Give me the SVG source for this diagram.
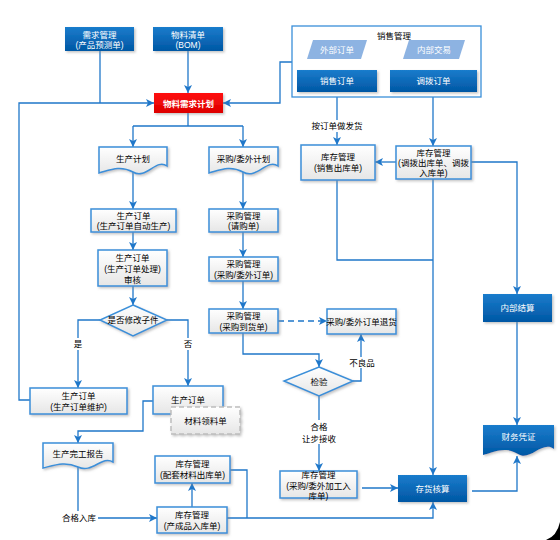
<svg xmlns="http://www.w3.org/2000/svg" width="560" height="540" viewBox="0 0 560 540">
<defs>
<linearGradient id="gBlue" x1="0" y1="0" x2="0" y2="1"><stop offset="0" stop-color="#1a7ccc"/><stop offset="1" stop-color="#0057a4"/></linearGradient>
<linearGradient id="gLight" x1="0" y1="0" x2="0" y2="1"><stop offset="0" stop-color="#ffffff"/><stop offset="1" stop-color="#e6e6e6"/></linearGradient>
<linearGradient id="gRed" x1="0" y1="0" x2="0" y2="1"><stop offset="0" stop-color="#ff1010"/><stop offset="1" stop-color="#dd0000"/></linearGradient>
<filter id="sh" x="-10%" y="-10%" width="130%" height="140%"><feDropShadow dx="1.5" dy="1.5" stdDeviation="0.8" flood-color="#888" flood-opacity="0.5"/></filter>
<marker id="ar" markerUnits="userSpaceOnUse" markerWidth="9" markerHeight="9" refX="8" refY="4.5" orient="auto"><path d="M0,0.5 L8,4.5 L0,8.5 L2,4.5 Z" fill="#1f77c9"/></marker>
</defs>
<style>
text{font-family:"Liberation Sans","Noto Sans CJK SC",sans-serif;font-size:8.5px;text-anchor:middle;}
.blue{fill:url(#gBlue);filter:url(#sh);}
.light{fill:url(#gLight);stroke:#3a8fd9;stroke-width:1.5;filter:url(#sh);}
.wt{fill:#fff;}
.bk{fill:#000;}
.para{fill:#8db3e2;}
.ln{fill:none;stroke:#1f77c9;stroke-width:1.3;}
.arr{marker-end:url(#ar);}
.lbl{fill:#000;}
.bg{fill:#fff;}
</style>

<g id="connectors">
<path class="ln" d="M100,51 V103"/>
<path class="ln arr" d="M30,400 H19 V103 H154"/>
<path class="ln arr" d="M188,51 V93"/>
<path class="ln arr" d="M292,62 H280 V103 H223"/>
<path class="ln" d="M188,113 V126 M133,126 H243"/>
<path class="ln arr" d="M133,126 V147"/>
<path class="ln arr" d="M243,126 V147"/>
<path class="ln arr" d="M337,59 V70"/>
<path class="ln arr" d="M433,59 V70"/>
<path class="ln arr" d="M337,92 V145"/>
<path class="ln arr" d="M433,92 V146"/>
<path class="ln arr" d="M396,162 H375"/>
<path class="ln arr" d="M471,162 H517 V294"/>
<path class="ln arr" d="M517,322 V425"/>
<path class="ln arr" d="M433,179 V475"/>
<path class="ln" d="M337,180 V260 H433"/>
<path class="ln arr" d="M472,491 H517 V456"/>
<path class="ln arr" d="M362,488 H398"/>
<path class="ln arr" d="M227,518 H433 V502"/>
<path class="ln" d="M230,470 H247 V518"/>
<path class="ln arr" d="M192,507 V483"/>
<path class="ln arr" d="M78,466 V518 H157"/>
<path class="ln arr" d="M153,401 H143 V431 H78 V443"/>
<path class="ln arr" d="M133,171 V209"/>
<path class="ln arr" d="M133,232 V250"/>
<path class="ln arr" d="M133,286 V305"/>
<path class="ln arr" d="M100,320 H78 V388"/>
<path class="ln arr" d="M167,320 H188 V386"/>
<path class="ln arr" d="M243,171 V209"/>
<path class="ln arr" d="M243,232 V257"/>
<path class="ln arr" d="M243,281 V309"/>
<path class="ln arr" d="M243,333 V354 H319 V367"/>
<path class="ln arr" d="M278,321 H327" stroke-dasharray="6,4"/>
<path class="ln arr" d="M353,381 H361 V334"/>
<path class="ln arr" d="M319,396 V471"/>
<rect class="bg" x="308" y="120" width="58" height="12"/>
<text class="lbl" x="337" y="129">按订单做发货</text>
<rect class="bg" x="60" y="511" width="38" height="12"/>
<text class="lbl" x="79" y="521">合格入库</text>
<rect class="bg" x="72" y="338" width="12" height="12"/>
<text class="lbl" x="78" y="347">是</text>
<rect class="bg" x="182" y="338" width="12" height="12"/>
<text class="lbl" x="188" y="347">否</text>
<rect class="bg" x="348" y="357" width="28" height="11"/>
<text class="lbl" x="362" y="366">不良品</text>
<rect class="bg" x="300" y="420" width="38" height="24"/>
<text class="lbl" x="319" y="430">合格</text>
<text class="lbl" x="319" y="442">让步接收</text>
</g>

<g id="n-demand"><rect class="blue" x="65" y="27" width="69" height="24"/><text class="wt" x="99.5" y="37.5">需求管理</text><text class="wt" x="99.5" y="48">(产品预测单)</text></g>
<g id="n-bom"><rect class="blue" x="153" y="27" width="70" height="24"/><text class="wt" x="188" y="37.5">物料清单</text><text class="wt" x="188" y="48">(BOM)</text></g>
<g id="n-mrp"><rect x="154" y="93" width="69" height="20" fill="url(#gRed)" filter="url(#sh)"/><text class="wt" x="188.5" y="106.5" font-size="10" font-weight="bold">物料需求计划</text></g>

<g id="n-sales"><rect x="292" y="26" width="189" height="71" fill="#fff" stroke="#3a8fd9" stroke-width="1.3"/><text class="bk" x="394" y="39" font-size="11">销售管理</text></g>
<g id="n-ext"><polygon class="para" points="313,40 367,40 361,59 307,59"/><text class="wt" x="337" y="53" font-size="8">外部订单</text></g>
<g id="n-int"><polygon class="para" points="409,40 465,40 459,59 403,59"/><text class="wt" x="434" y="53" font-size="8">内部交易</text></g>
<g id="n-so"><rect class="blue" x="297" y="70" width="80" height="22"/><text class="wt" x="337" y="84">销售订单</text></g>
<g id="n-to"><rect class="blue" x="390" y="70" width="87" height="22"/><text class="wt" x="433.5" y="84">调拨订单</text></g>

<g id="n-inv-sale"><rect class="light" x="301" y="145" width="74" height="35"/><text class="bk" x="338" y="159.5">库存管理</text><text class="bk" x="338" y="171">(销售出库单)</text></g>
<g id="n-inv-trans"><rect class="light" x="396" y="146" width="75" height="33"/><text class="bk" x="433.5" y="156">库存管理</text><text class="bk" x="433.5" y="166">(调拨出库单、调拨</text><text class="bk" x="433.5" y="176">入库单)</text></g>

<g id="n-prodplan"><path class="light" d="M99,147 H167 V166 C156,158 146,180 133,172 C120,165 110,170 99,173 Z"/><text class="bk" x="133" y="162">生产计划</text></g>
<g id="n-purplan"><path class="light" d="M209,147 H278 V166 C267,158 257,180 243,172 C230,165 220,170 209,173 Z"/><text class="bk" x="243.5" y="162">采购/委外计划</text></g>

<g id="n-mo1"><rect class="light" x="91" y="209" width="85" height="23"/><text class="bk" x="133.5" y="218.5">生产订单</text><text class="bk" x="133.5" y="229">(生产订单自动生产)</text></g>
<g id="n-mo2"><rect class="light" x="98" y="250" width="69" height="36"/><text class="bk" x="132.5" y="261">生产订单</text><text class="bk" x="132.5" y="272">(生产订单处理)</text><text class="bk" x="132.5" y="283">审核</text></g>
<g id="n-chk"><polygon class="light" points="133,305 167,320 133,336 100,320"/><text class="bk" x="133" y="323">是否修改子件</text></g>
<g id="n-mo3"><rect class="light" x="30" y="388" width="97" height="26"/><text class="bk" x="78.5" y="398.5">生产订单</text><text class="bk" x="78.5" y="410">(生产订单维护)</text></g>
<g id="n-mo4"><rect class="light" x="153" y="386" width="70" height="28"/><text class="bk" x="188" y="403">生产订单</text></g>
<g id="n-pick"><rect x="171" y="407" width="69" height="27" fill="url(#gLight)" stroke="#bdbdbd" stroke-width="1.5" stroke-dasharray="5,3" filter="url(#sh)"/><text class="bk" x="205.5" y="424">材料领料单</text></g>

<g id="n-pr"><rect class="light" x="209" y="209" width="69" height="23"/><text class="bk" x="243.5" y="218.5">采购管理</text><text class="bk" x="243.5" y="229">(请购单)</text></g>
<g id="n-po"><rect class="light" x="209" y="257" width="69" height="24"/><text class="bk" x="243.5" y="267">采购管理</text><text class="bk" x="243.5" y="278" font-size="8">(采购/委外订单)</text></g>
<g id="n-arr"><rect class="light" x="209" y="309" width="69" height="24"/><text class="bk" x="243.5" y="319">采购管理</text><text class="bk" x="243.5" y="330">(采购到货单)</text></g>
<g id="n-ret"><rect class="light" x="327" y="309" width="69" height="25"/><text class="bk" x="361.5" y="325" font-size="7.3">采购/委外订单退货</text></g>
<g id="n-qc"><polygon class="light" points="319,367 353,381 319,396 284,381"/><text class="bk" x="319" y="385">检验</text></g>
<g id="n-inv-pur"><rect class="light" x="280" y="471" width="77" height="27"/><text class="bk" x="318.5" y="478">库存管理</text><text class="bk" x="318.5" y="488.5">(采购/委外加工入</text><text class="bk" x="318.5" y="499">库单)</text></g>

<g id="n-cost"><rect class="blue" x="398" y="475" width="69" height="27"/><text class="wt" x="432.5" y="492">存货核算</text></g>
<g id="n-settle"><rect class="blue" x="483" y="294" width="69" height="28"/><text class="wt" x="517.5" y="311">内部结算</text></g>
<g id="n-voucher"><path class="blue" d="M483,425 H554 V449 C542,440 530,462 518,454 C505,446 495,452 483,455 Z"/><text class="wt" x="518.5" y="440">财务凭证</text></g>

<g id="n-report"><path class="light" d="M43,443 H113 V462 C102,455 92,474 78,467 C65,461 55,465 43,468 Z"/><text class="bk" x="78" y="457">生产完工报告</text></g>
<g id="n-inv-mat"><rect class="light" x="155" y="456" width="75" height="27"/><text class="bk" x="192.5" y="466.5">库存管理</text><text class="bk" x="192.5" y="478">(配套材料出库单)</text></g>
<g id="n-inv-fg"><rect class="light" x="157" y="507" width="70" height="26"/><text class="bk" x="192" y="517.5">库存管理</text><text class="bk" x="192" y="529">(产成品入库单)</text></g>

<path d="M560,522 Q557,536 546,540 L560,540 Z" fill="#000"/>
</svg>
